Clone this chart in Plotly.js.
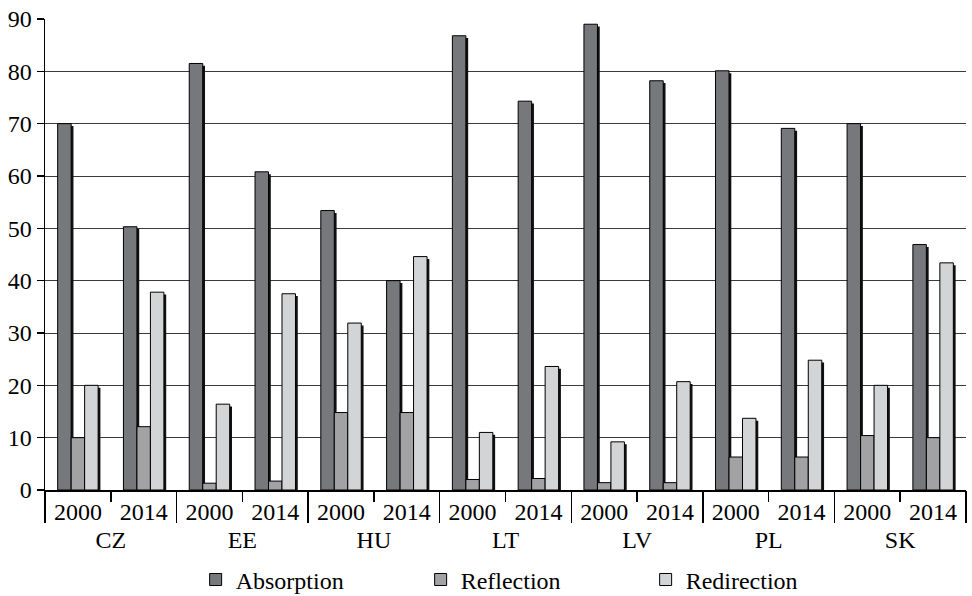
<!DOCTYPE html>
<html>
<head>
<meta charset="utf-8">
<script src="https://cdn.plot.ly/plotly-3.0.1.min.js"></script>
<style>
html,body{margin:0;padding:0;background:#fff;}
#chart{width:972px;height:596px;}
</style>
</head>
<body>
<div id="chart"></div>
<script>
const countryList = ['CZ','EE','HU','LT','LV','PL','SK'];
const countries = ['CZ','CZ','EE','EE','HU','HU','LT','LT','LV','LV','PL','PL','SK','SK'];
const years = ['2000','2014','2000','2014','2000','2014','2000','2014','2000','2014','2000','2014','2000','2014'];
const absorption = [70.0, 50.3, 81.5, 60.8, 53.4, 40.0, 86.8, 74.3, 89.0, 78.2, 80.1, 69.1, 70.0, 46.9];
const reflection = [10.0, 12.1, 1.3, 1.7, 14.8, 14.8, 2.0, 2.2, 1.4, 1.4, 6.3, 6.3, 10.4, 10.0];
const redirection = [20.0, 37.8, 16.4, 37.5, 31.9, 44.6, 11.0, 23.6, 9.2, 20.7, 13.7, 24.8, 20.0, 43.4];
const seriesNames = ['Absorption','Reflection','Redirection'];
const seriesColors = ['#77787c','#a2a2a5','#d3d4d5'];

const x = [countries, years];
const barW = 0.205;
const offsets = [-1.5*barW, -0.5*barW, 0.5*barW];
const shadowDx = 0.035;
const shadowDy = 0.45;
const allSeries = [absorption, reflection, redirection];

const traces = [];
allSeries.forEach((vals, i) => {
  traces.push({
    type:'bar', x:x, y:vals.map(v => v - shadowDy),
    offset: offsets[i] + shadowDx, width: barW,
    marker:{color:'#111', line:{width:0}},
    showlegend:false, hoverinfo:'skip'
  });
});
allSeries.forEach((vals, i) => {
  traces.push({
    type:'bar', x:x, y:vals, name:seriesNames[i],
    offset: offsets[i], width: barW,
    marker:{color:seriesColors[i], line:{color:'#000', width:1}}
  });
});
traces.push({
  type:'scatter', mode:'markers', x:countryList, y:countryList.map(() => null),
  xaxis:'x2', yaxis:'y', showlegend:false, hoverinfo:'skip', marker:{opacity:0}
});

const font = {family:'Liberation Serif, Times New Roman, serif', size:24, color:'#000'};

const layout = {
  width:972, height:596,
  margin:{l:45, r:6, t:19, b:106},
  paper_bgcolor:'#fff', plot_bgcolor:'#fff',
  barmode:'overlay',
  font:font,
  showlegend:true,
  legend:{orientation:'h', x:0.53, xanchor:'center', xref:'paper',
    y:0.027, yanchor:'middle', yref:'container',
    font:font, entrywidth:180, itemwidth:30, traceorder:'normal', bgcolor:'rgba(0,0,0,0)'},
  xaxis:{
    type:'multicategory',
    showline:true, linecolor:'#000', linewidth:1.5,
    ticks:'outside', tickson:'boundaries', ticklen:10, tickcolor:'#000', tickwidth:1.5,
    showdividers:false,
    showgrid:false, zeroline:false, automargin:false,
    tickfont:font
  },
  xaxis2:{
    type:'category', overlaying:'x', anchor:'y', side:'bottom',
    categoryarray:countryList, categoryorder:'array',
    range:[-0.5, countryList.length - 0.5],
    showticklabels:false, showline:false, showgrid:false, zeroline:false,
    ticks:'outside', tickson:'boundaries', ticklen:32, tickcolor:'#000', tickwidth:1.5,
    automargin:false
  },
  yaxis:{
    range:[0,90], dtick:10, tick0:0,
    showline:true, linecolor:'#000', linewidth:1.5,
    ticks:'outside', ticklen:7, tickcolor:'#000', tickwidth:1.5,
    showgrid:true, gridcolor:'#3a3a3a', gridwidth:1,
    zeroline:false, tickfont:font, automargin:false
  }
};

Plotly.newPlot('chart', traces, layout, {displayModeBar:false, staticPlot:true});
</script>
</body>
</html>
